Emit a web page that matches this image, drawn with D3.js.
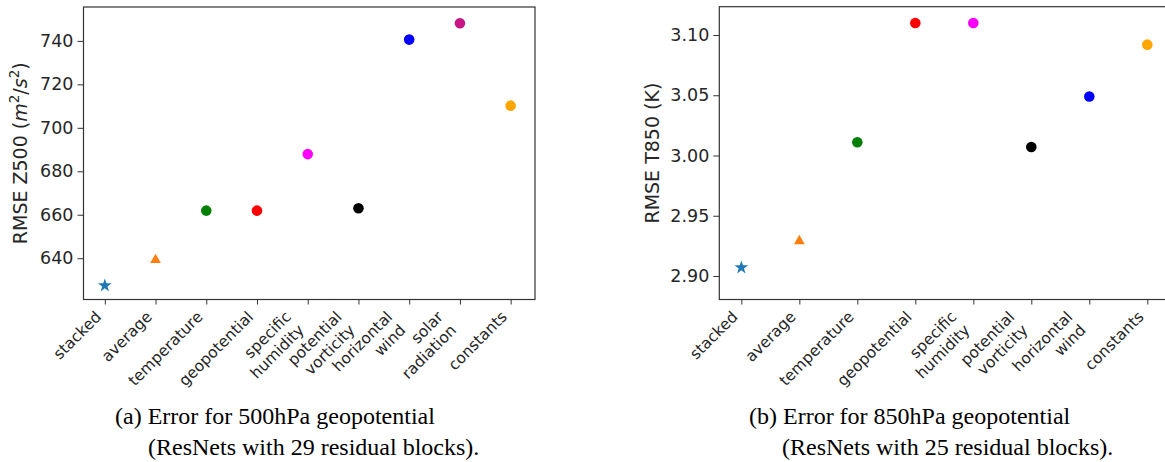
<!DOCTYPE html>
<html>
<head>
<meta charset="utf-8">
<script src="https://cdn.jsdelivr.net/npm/d3@7"></script>
<style>
    body { margin: 0; background: white; }
    svg { display: block; }
</style>
</head>
<body>
<svg id="chart"></svg>
<script>
// RMSE per input variable group

const z500Categories = ["stacked", "average", "temperature", "geopotential", "specific\nhumidity",
    "potential\nvorticity", "horizontal\nwind", "solar\nradiation", "constants"]
const z500Values = [627.4, 639.2, 661.9, 661.9, 687.9, 663.0, 740.6, 748.1, 710.2]
const z500Colors = ["#1f77b4", "#ff7f0e", "green", "red", "magenta", "black", "blue", "mediumvioletred", "orange"]
const z500Markers = ["star", "triangle", "circle", "circle", "circle", "circle", "circle", "circle", "circle"]
const z500Ticks = [640, 660, 680, 700, 720, 740]

const t850Categories = ["stacked", "average", "temperature", "geopotential", "specific\nhumidity",
    "potential\nvorticity", "horizontal\nwind", "constants"]
const t850Values = [2.907, 2.929, 3.011, 3.110, 3.110, 3.007, 3.049, 3.092]
const t850Colors = ["#1f77b4", "#ff7f0e", "green", "red", "magenta", "black", "blue", "orange"]
const t850Markers = ["star", "triangle", "circle", "circle", "circle", "circle", "circle", "circle"]
const t850Ticks = [2.90, 2.95, 3.00, 3.05, 3.10]

const svg = d3.select("#chart")
    .attr("width", 1165)
    .attr("height", 462)

svg.append("rect")
    .attr("width", 1165)
    .attr("height", 462)
    .attr("fill", "white")

const symbols = {
    star: d3.symbol().type(d3.symbolStar).size(58),
    triangle: d3.symbol().type(d3.symbolTriangle).size(50),
    circle: d3.symbol().type(d3.symbolCircle).size(88),
}

const textColor = "#262626"
const tickFont = 15.5
const c45 = Math.SQRT1_2

function drawPanel(p) {
    const x = d3.scaleLinear().domain(p.xDomain).range([p.left, p.right])
    const y = d3.scaleLinear().domain(p.yDomain).range([p.bottom, p.top])

    const g = svg.append("g")

    // y axis
    const yAxis = d3.axisLeft(y)
        .tickValues(p.ticks)
        .tickFormat(p.format)
        .tickSize(6)
        .tickPadding(4)

    g.append("g")
        .attr("transform", `translate(${p.left},0)`)
        .call(yAxis)
        .call(a => a.select(".domain").remove())
        .call(a => a.selectAll("line").attr("stroke", "#333").attr("stroke-width", 1))
        .call(a => a.selectAll("text")
            .attr("fill", textColor)
            .style("font-family", "DejaVu Sans")
            .style("font-size", "17.5px"))

    // x axis, ticks only, labels added by hand below
    const xAxis = d3.axisBottom(x)
        .tickValues(d3.range(p.categories.length))
        .tickFormat("")
        .tickSize(5)

    g.append("g")
        .attr("transform", `translate(0,${p.bottom})`)
        .call(xAxis)
        .call(a => a.select(".domain").remove())
        .call(a => a.selectAll("line").attr("stroke", "#333").attr("stroke-width", 1))

    // rotated tick labels, right/top aligned like matplotlib rotation=45
    const lh = 1.2 * tickFont
    p.categories.forEach((label, i) => {
        const lines = label.split("\n")
        const n = lines.length
        const top = p.bottom + 5 + 5
        const blockH = (n - 1) * lh + tickFont
        const lrx = x(i)
        const lry = top + c45 * blockH
        lines.forEach((line, j) => {
            const up = 0.24 * tickFont + (n - 1 - j) * lh
            g.append("text")
                .attr("transform", `translate(${lrx - up * c45},${lry - up * c45}) rotate(-45)`)
                .attr("text-anchor", "end")
                .attr("fill", textColor)
                .style("font-family", "DejaVu Sans")
                .style("font-size", tickFont + "px")
                .text(line)
        })
    })

    // frame
    g.append("rect")
        .attr("x", p.left)
        .attr("y", p.top)
        .attr("width", p.right - p.left)
        .attr("height", p.bottom - p.top)
        .attr("fill", "none")
        .attr("stroke", "#333")
        .attr("stroke-width", 1.2)

    // points
    g.selectAll(".dot")
        .data(p.values)
        .enter().append("path")
        .attr("class", "dot")
        .attr("d", (d, i) => symbols[p.markers[i]]())
        .attr("transform", (d, i) => `translate(${x(i)},${y(d)})`)
        .attr("fill", (d, i) => p.colors[i])

    // y label
    const ylab = g.append("text")
        .attr("transform", `translate(${p.labelX},${(p.top + p.bottom) / 2}) rotate(-90)`)
        .attr("text-anchor", "middle")
        .attr("fill", textColor)
        .style("font-family", "DejaVu Sans")
        .style("font-size", "19px")
    p.yLabel(ylab)

    // caption
    const cap = g.append("text")
        .attr("fill", "black")
        .style("font-family", "Liberation Serif")
        .style("font-size", "24px")
    cap.append("tspan").attr("x", p.capX1).attr("y", 424).text(p.caption[0])
    cap.append("tspan").attr("x", p.capX2).attr("y", 455).text(p.caption[1])
}

drawPanel({
    categories: z500Categories,
    values: z500Values,
    colors: z500Colors,
    markers: z500Markers,
    ticks: z500Ticks,
    format: d3.format("d"),
    xDomain: [-0.42, 8.48],
    yDomain: [621, 755.6],
    left: 83.5, right: 535, top: 7, bottom: 299.5,
    labelX: 27,
    yLabel: t => {
        t.append("tspan").text("RMSE Z500 (")
        t.append("tspan").style("font-style", "italic").text("m")
        t.append("tspan").attr("dy", -8).style("font-size", "13.5px").text("2")
        t.append("tspan").attr("dy", 8).text("/")
        t.append("tspan").style("font-style", "italic").text("s")
        t.append("tspan").attr("dy", -8).style("font-size", "13.5px").text("2")
        t.append("tspan").attr("dy", 8).text(")")
    },
    caption: ["(a) Error for 500hPa geopotential", "(ResNets with 29 residual blocks)."],
    capX1: 115, capX2: 148,
})

drawPanel({
    categories: t850Categories,
    values: t850Values,
    colors: t850Colors,
    markers: t850Markers,
    ticks: t850Ticks,
    format: d3.format(".2f"),
    xDomain: [-0.38, 7.4],
    yDomain: [2.8805, 3.1235],
    left: 719.3, right: 1170.5, top: 6.7, bottom: 299.5,
    labelX: 659,
    yLabel: t => t.text("RMSE T850 (K)"),
    caption: ["(b) Error for 850hPa geopotential", "(ResNets with 25 residual blocks)."],
    capX1: 749, capX2: 782,
})
</script>
</body>
</html>
